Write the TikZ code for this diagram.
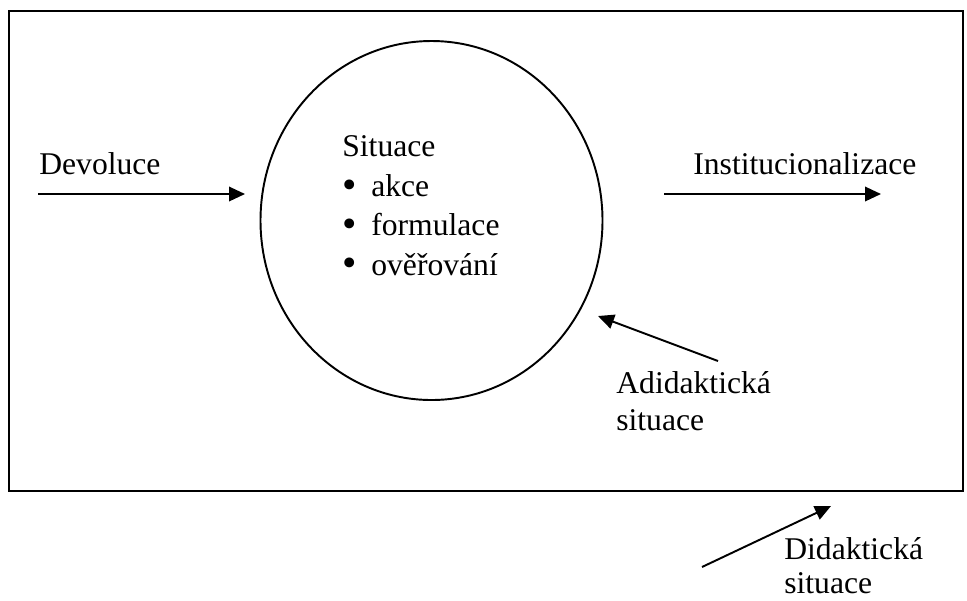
\documentclass[tikz,border=0pt]{standalone}
\usepackage{fontspec}
\setmainfont{Liberation Serif}
\usetikzlibrary{arrows.meta, shapes.geometric}

\newcommand{\bodka}{\makebox[0.58cm][l]{\raisebox{-1pt}{\scalebox{1.3}{•}}}}

\begin{document}
\begin{tikzpicture}[x=0.02cm, y=-0.02cm]
  \tikzset{
    label_text/.style={anchor=base west, inner sep=0pt, align=left, font=\fontsize{18}{22}\selectfont},
    arrow_line/.style={line width=1.1pt, -{Triangle[length=0.32cm, width=0.29cm]}}
  }

  % Bounding box
  \useasboundingbox (0,0) rectangle (967,600);

  % Rámec didaktické situace
  \draw[line width=1.4pt] (9,11) rectangle (963,491);

  % Adidaktická situace (elipsa)
  \node[draw, ellipse, line width=1.1pt, minimum width=342*0.02cm, minimum height=359*0.02cm, inner sep=0pt] (sit_ell) at (431.5,220.5) {};

  % Texty (kotva = účaří posledního řádku)
  \node[label_text, font=\fontsize{18}{22.4}\selectfont] (sit) at (342,275) {Situace\\\bodka akce\\\bodka formulace\\\bodka ověřování};
  \node[label_text] (dev) at (39,174) {Devoluce};
  \node[label_text] (inst) at (693,174) {Institucionalizace};
  \node[label_text, font=\fontsize{18}{21}\selectfont] (adid) at (616,430) {Adidaktická\\situace};
  \node[label_text, font=\fontsize{18}{19}\selectfont] (did) at (784,593) {Didaktická\\situace};

  % Konce šipek
  \coordinate (dev_a) at (38,194);
  \coordinate (dev_b) at (245,194);
  \coordinate (inst_a) at (664,194);
  \coordinate (inst_b) at (881,194);
  \coordinate (adid_a) at (718,361);
  \coordinate (adid_b) at (598,316);
  \coordinate (did_a) at (702,567);
  \coordinate (did_b) at (831,506);

  % Šipky
  \draw[arrow_line] (dev_a) -- (dev_b);
  \draw[arrow_line] (inst_a) -- (inst_b);
  \draw[arrow_line] (adid_a) -- (adid_b);
  \draw[arrow_line] (did_a) -- (did_b);
\end{tikzpicture}
\end{document}
